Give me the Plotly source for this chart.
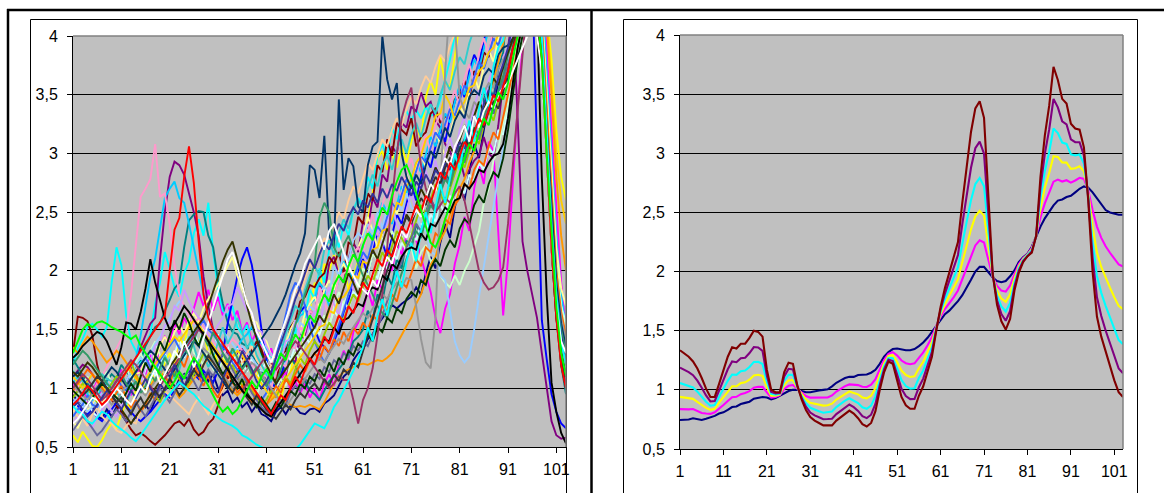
import plotly.graph_objects as go

FW, FH = 1164, 493

x_vals = list(range(1, 104))
x_ticks = [1, 11, 21, 31, 41, 51, 61, 71, 81, 91, 101]
y_ticks = [0.5, 1, 1.5, 2, 2.5, 3, 3.5, 4]
y_tick_text = ["0,5", "1", "1,5", "2", "2,5", "3", "3,5", "4"]

# ---------------- left panel series ----------------
l_navy = [0.95,0.88,0.86,0.78,0.84,0.76,0.74,0.82,0.76,0.84,
 0.78,0.72,0.70,0.76,0.82,0.86,0.80,0.90,0.94,0.98,
 1.04,0.98,1.08,1.12,1.04,1.16,1.22,1.12,1.06,1.12,
 1.00,0.94,0.98,0.88,0.92,0.84,0.88,0.80,0.86,0.78,
 0.76,0.72,0.80,0.84,0.78,0.85,0.84,0.79,0.78,0.82,
 0.83,0.80,0.87,0.90,0.94,1.02,1.10,1.14,1.24,1.30,
 1.33,1.42,1.46,1.54,1.60,1.66,1.71,1.68,1.72,1.75,
 1.78,1.86,1.80,1.98,2.12,2.02,2.24,2.40,2.28,2.54,
 2.72,2.60,2.86,3.08,2.96,3.22,3.44,3.34,3.62,3.76,
 3.60,3.82,4.02,4.20,4.40,4.50,4.40,4.20,3.40,2.60,
 1.80,1.30,1.00]
l_magenta = [1.05,0.96,1.02,0.88,0.97,1.06,0.94,0.90,1.01,1.08,
 1.16,1.00,0.94,1.08,1.20,1.12,1.30,1.18,1.36,1.44,
 1.38,1.56,1.46,1.60,1.52,1.68,1.82,1.70,1.84,1.66,
 1.78,1.62,1.72,1.58,1.66,1.48,1.56,1.40,1.48,1.32,
 1.26,1.34,1.18,1.08,1.14,0.98,1.06,0.96,1.04,0.92,
 1.00,0.90,1.04,1.12,1.02,1.20,1.32,1.24,1.48,1.56,
 1.66,1.84,1.70,1.92,1.84,2.10,2.00,2.24,2.14,2.30,
 2.44,2.26,2.12,1.96,1.82,1.60,1.47,1.68,1.80,2.06,
 2.22,2.46,2.34,2.70,2.90,2.74,3.10,3.02,2.30,1.62,
 2.10,2.80,3.40,3.90,4.30,4.50,4.60,4.40,3.90,3.20,
 2.50,1.90,1.50]
l_yellow = [0.60,0.54,0.63,0.57,0.51,0.50,0.56,0.64,0.70,0.66,
 0.78,0.88,0.82,0.98,1.08,0.96,1.04,1.14,1.06,1.22,
 1.30,1.20,1.44,1.36,1.58,1.46,1.38,1.50,1.28,1.36,
 1.20,1.30,1.12,1.26,1.34,1.18,1.28,1.10,1.16,1.02,
 1.08,0.92,1.00,0.90,1.08,1.16,1.30,1.22,1.56,1.66,
 1.90,1.82,2.06,2.00,2.14,1.98,2.04,1.84,1.96,2.08,
 2.16,2.44,2.66,2.96,3.02,2.86,3.00,2.88,3.06,2.92,
 3.10,3.24,3.12,3.48,3.62,3.50,3.82,3.60,3.56,3.84,
 4.10,4.30,4.40,4.30,4.20,4.40,4.50,4.60,4.60,4.50,
 4.40,4.30,4.50,4.60,4.70,4.60,4.50,4.40,4.20,3.80,
 3.20,2.80,2.60]
l_cyan = [1.20,1.34,1.42,1.52,1.55,1.50,1.44,1.52,1.90,2.20,
 2.05,1.62,1.40,1.32,1.20,1.38,1.46,1.72,1.90,2.16,
 2.02,1.86,1.78,1.98,2.08,2.32,2.44,2.30,2.58,2.16,
 1.84,1.66,1.62,1.70,1.52,1.46,1.54,1.36,1.40,1.28,
 1.22,1.30,1.16,1.38,1.32,1.54,1.46,1.72,1.60,1.84,
 1.76,2.02,1.90,2.18,2.34,2.20,2.40,2.30,2.52,2.62,
 2.56,2.80,2.70,2.98,3.08,2.96,3.22,3.12,3.30,3.36,
 3.28,3.37,3.30,3.40,3.32,3.34,3.46,3.62,3.80,4.00,
 4.20,4.40,4.30,4.20,4.50,4.60,4.50,4.40,4.30,4.20,
 4.30,4.40,4.50,4.60,4.50,4.40,4.40,4.20,3.50,2.60,
 2.00,1.70,1.55]
l_cyan_low = [0.85,0.80,0.78,0.72,0.70,0.75,0.80,0.78,0.72,0.68,
 0.65,0.62,0.58,0.55,0.60,0.66,0.72,0.78,0.85,0.90,
 0.95,1.00,1.05,1.02,0.98,0.95,0.90,0.85,0.82,0.78,
 0.75,0.72,0.70,0.68,0.65,0.60,0.58,0.55,0.52,0.50,
 0.48,0.46,0.45,0.44,0.45,0.46,0.48,0.52,0.58,0.64,
 0.70,0.68,0.66,0.74,0.84,0.90,0.98,1.07,1.15,1.25,
 1.35,1.52,1.40,1.62,1.76,1.62,1.84,2.00,1.86,2.08,
 2.24,2.08,2.34,2.50,2.32,2.54,2.74,2.58,2.80,3.00,
 2.86,3.12,3.28,3.10,3.38,3.56,3.40,3.74,3.90,3.96,
 4.20,4.30,4.40,4.45,4.50,4.40,4.30,4.00,3.20,2.40,
 1.80,1.40,1.20]
l_purple = [1.10,1.15,1.20,1.18,1.12,1.05,1.00,0.95,1.00,1.05,
 1.10,1.05,1.15,1.25,1.35,1.45,1.55,1.60,2.10,2.50,
 2.80,2.93,2.90,2.82,2.65,2.50,2.30,1.95,1.70,1.50,
 1.40,1.35,1.30,1.25,1.30,1.35,1.28,1.22,1.18,1.12,
 1.06,0.96,0.98,1.08,1.04,1.26,1.22,1.46,1.40,1.66,
 1.62,1.88,1.80,2.06,2.12,1.96,1.90,2.10,2.24,2.16,
 2.42,2.36,2.62,2.54,2.82,2.76,3.06,3.00,3.26,3.22,
 3.40,3.36,3.52,3.40,3.44,3.28,3.22,3.08,3.02,2.90,
 2.96,2.80,2.86,2.94,2.98,3.14,3.00,2.96,3.24,3.60,
 3.90,4.20,3.30,2.25,2.00,1.80,1.60,1.30,1.00,0.72,
 0.60,0.57,0.58]
l_maroon = [1.30,1.61,1.60,1.57,1.45,1.20,1.05,0.95,0.90,0.85,
 0.80,0.72,0.65,0.60,0.62,0.59,0.55,0.52,0.56,0.60,
 0.65,0.70,0.72,0.68,0.74,0.65,0.60,0.63,0.70,0.74,
 0.85,1.02,1.10,1.04,1.16,1.26,1.18,1.32,1.40,1.33,
 1.20,1.18,1.04,1.26,1.32,1.52,1.58,1.74,1.78,1.88,
 1.86,1.94,1.98,2.12,2.06,2.16,1.98,2.24,2.22,2.46,
 2.40,2.66,2.60,2.90,2.84,3.12,2.98,3.26,3.20,3.16,
 3.30,3.06,3.14,3.18,3.34,3.38,3.26,3.32,3.28,3.46,
 3.48,3.62,3.46,3.70,3.66,3.86,3.82,4.06,4.04,4.22,
 4.30,4.40,4.50,4.60,4.70,4.60,4.50,4.30,3.60,2.80,
 2.10,1.60,1.30]
l_teal = [1.25,1.18,1.12,1.04,1.00,0.93,1.02,1.06,1.12,1.08,
 1.20,1.14,1.10,1.20,1.24,1.36,1.44,1.52,1.55,1.66,
 1.75,1.85,1.90,2.20,2.43,2.48,2.51,2.50,2.30,2.20,
 1.92,1.72,1.56,1.48,1.46,1.38,1.36,1.28,1.22,1.14,
 1.08,1.05,1.02,1.12,1.18,1.26,1.20,1.10,1.06,0.98,
 0.95,0.90,0.98,1.06,1.10,1.16,1.22,1.28,1.40,1.44,
 1.50,1.66,1.58,1.80,1.74,1.96,1.88,2.10,2.02,2.26,
 2.18,2.40,2.30,2.50,2.62,2.52,2.70,2.84,2.76,2.98,
 3.06,2.96,3.20,3.32,3.24,3.46,3.58,3.48,3.72,3.86,
 4.35,4.45,4.50,4.60,4.50,4.40,4.30,4.00,3.20,2.40,
 1.70,1.20,0.95]
l_blue = [0.90,0.85,0.80,0.78,0.82,0.75,0.72,0.78,0.82,0.88,
 0.92,0.85,0.80,0.75,0.72,0.76,0.80,0.85,0.90,0.95,
 0.92,0.98,1.05,1.10,1.15,1.12,1.08,1.15,1.10,1.05,
 1.15,1.30,1.55,1.75,1.95,2.10,2.20,2.05,1.80,1.50,
 1.25,1.05,1.00,1.10,1.25,1.40,1.55,1.65,1.70,1.60,
 1.50,1.40,1.35,1.30,1.40,1.50,1.65,1.75,1.90,2.00,
 2.10,1.96,2.16,2.34,2.24,2.12,2.30,2.48,2.40,2.58,
 2.74,2.60,2.80,2.96,2.88,3.06,3.20,3.10,3.30,3.44,
 3.56,3.48,3.70,3.84,3.76,3.96,4.10,4.02,4.20,4.30,
 4.40,4.50,4.40,4.50,4.60,4.50,3.00,1.58,1.25,0.95,
 0.80,0.70,0.66]
l_sky = [1.05,1.10,1.00,0.95,0.90,0.95,1.00,1.05,0.98,0.92,
 0.95,1.00,1.10,1.25,1.45,1.70,1.95,2.10,2.35,2.62,
 2.70,2.76,2.62,2.58,2.40,2.20,2.00,1.80,1.60,1.50,
 1.45,1.38,1.32,1.30,1.35,1.42,1.46,1.52,1.44,1.38,
 1.34,1.28,1.22,1.30,1.36,1.46,1.54,1.62,1.64,1.72,
 1.76,1.90,1.84,1.70,1.78,1.94,2.08,2.00,1.92,2.06,
 2.20,2.34,2.28,2.42,2.58,2.50,2.40,2.56,2.72,2.66,
 2.80,2.92,2.84,2.98,3.14,3.06,3.20,3.34,3.26,3.44,
 3.58,3.50,3.66,3.80,3.72,3.90,4.06,4.00,4.18,4.30,
 4.40,4.50,4.60,4.70,4.80,4.70,4.60,4.40,3.70,3.00,
 2.30,1.80,1.50]
l_turquoise = [0.80,0.88,0.84,0.92,0.80,0.76,0.86,0.94,0.90,1.02,
 0.94,0.86,1.00,1.10,1.02,1.16,1.24,1.10,1.22,1.30,
 1.16,1.30,1.42,1.26,1.36,1.50,1.36,1.52,1.40,1.32,
 1.46,1.28,1.36,1.20,1.34,1.22,1.14,1.26,1.08,1.16,
 1.22,1.14,1.26,1.18,1.30,1.24,1.36,1.30,1.44,1.38,
 1.50,1.46,1.58,1.54,1.66,1.60,1.74,1.68,1.82,1.78,
 1.90,1.86,1.98,1.94,2.08,2.02,2.16,2.10,2.24,2.18,
 2.32,2.26,2.40,2.34,2.48,2.42,2.56,2.50,2.64,2.58,
 2.72,2.66,2.82,2.76,2.92,2.86,3.04,3.00,3.20,3.16,
 3.40,3.70,4.00,4.30,4.40,4.40,4.30,4.10,3.40,2.60,
 2.00,1.70,1.55]
l_lightgreen = [1.00,0.94,1.04,1.10,1.00,0.96,1.08,1.14,1.04,1.00,
 1.12,1.18,1.08,1.22,1.30,1.20,1.32,1.40,1.28,1.24,
 1.18,1.32,1.22,1.38,1.44,1.30,1.26,1.20,1.32,1.16,
 1.12,1.26,1.16,1.08,1.12,1.18,1.06,1.02,0.94,1.06,
 0.98,0.90,1.00,1.08,1.02,1.22,1.30,1.24,1.42,1.50,
 1.44,1.56,1.62,1.52,1.70,1.82,1.72,1.80,1.94,1.86,
 2.02,1.96,2.14,2.10,2.28,2.20,2.34,2.24,2.30,2.14,
 2.20,2.02,2.16,2.22,2.08,2.12,1.96,1.90,1.86,1.96,
 1.88,2.00,2.08,2.22,2.34,2.58,2.70,2.94,3.04,3.26,
 3.40,3.62,3.74,3.94,4.10,4.30,4.40,4.20,3.50,2.70,
 2.10,1.70,1.50]
l_lightyellow = [0.72,0.66,0.76,0.82,0.84,0.94,0.86,0.96,1.02,0.94,
 0.88,1.00,1.06,1.12,1.14,1.26,1.32,1.24,1.36,1.44,
 1.36,1.48,1.54,1.46,1.58,1.64,1.56,1.68,1.76,1.82,
 1.88,1.96,2.04,2.12,1.96,1.84,1.74,1.58,1.56,1.44,
 1.40,1.28,1.26,1.34,1.38,1.50,1.58,1.48,1.64,1.72,
 1.78,1.68,1.84,1.92,1.84,2.00,2.06,1.98,2.14,2.20,
 2.30,2.46,2.34,2.20,2.32,2.48,2.60,2.48,2.66,2.82,
 2.70,2.88,3.00,2.88,3.06,3.20,3.08,2.98,3.16,3.32,
 3.40,3.34,3.52,3.66,3.54,3.74,3.88,3.78,3.98,4.12,
 4.20,4.30,4.40,4.50,4.60,4.50,4.40,4.20,3.50,2.80,
 2.20,1.85,1.70]
l_paleblue = [0.88,0.92,0.86,0.80,0.84,0.90,0.96,1.02,0.98,1.04,
 1.10,1.06,1.14,1.20,1.26,1.22,1.30,1.38,1.44,1.52,
 1.60,1.68,1.74,1.70,1.62,1.56,1.50,1.44,1.40,1.36,
 1.42,1.48,1.44,1.38,1.32,1.36,1.30,1.26,1.20,1.16,
 1.12,1.02,1.16,1.24,1.20,1.40,1.36,1.56,1.52,1.70,
 1.66,1.82,1.86,1.80,2.04,1.96,2.16,2.08,2.26,2.32,
 2.28,2.40,2.32,2.50,2.36,2.54,2.48,2.58,2.52,2.66,
 2.54,2.50,2.36,2.34,2.16,2.14,1.96,1.92,1.64,1.40,
 1.28,1.22,1.27,1.50,1.78,2.05,2.30,2.55,2.80,3.05,
 3.30,3.55,3.80,4.05,4.30,4.40,4.30,4.00,3.20,2.40,
 1.90,1.60,1.45]
l_rose = [0.95,1.00,1.06,1.02,0.96,1.04,1.10,1.18,1.26,1.34,
 1.42,1.50,1.80,2.20,2.63,2.70,2.78,3.08,2.63,2.66,
 2.40,2.05,1.80,1.70,1.62,1.55,1.60,1.52,1.46,1.40,
 1.34,1.30,1.36,1.42,1.38,1.32,1.26,1.20,1.16,1.12,
 1.10,1.00,1.14,1.22,1.18,1.36,1.34,1.52,1.48,1.66,
 1.62,1.86,1.74,1.60,1.76,1.94,1.98,2.00,2.14,2.20,
 2.12,2.34,2.48,2.30,2.56,2.70,2.54,2.78,2.60,2.84,
 2.96,2.80,3.02,3.16,3.00,3.24,3.34,3.18,3.42,3.54,
 3.40,3.64,3.76,3.60,3.86,3.98,3.84,4.08,4.20,4.20,
 4.20,4.30,4.40,4.50,4.60,4.50,4.40,4.10,3.30,2.50,
 1.90,1.60,1.40]
l_lavender = [0.70,0.76,0.80,0.70,0.66,0.76,0.82,0.88,0.80,0.76,
 0.86,0.92,0.98,1.06,1.02,1.20,1.22,1.36,1.40,1.54,
 1.56,1.70,1.66,1.84,1.74,1.66,1.60,1.58,1.44,1.46,
 1.54,1.60,1.70,1.72,1.86,1.76,1.66,1.64,1.50,1.48,
 1.36,1.28,1.28,1.22,1.40,1.42,1.58,1.44,1.38,1.56,
 1.66,1.52,1.74,1.86,1.72,1.62,1.84,1.98,1.84,2.06,
 2.18,2.02,2.24,2.36,2.20,2.42,2.56,2.40,2.30,2.52,
 2.66,2.50,2.72,2.86,2.70,2.94,2.76,3.00,3.14,2.98,
 3.20,3.32,3.16,3.40,3.54,3.38,3.62,3.74,3.58,3.82,
 3.90,4.04,4.16,4.30,4.40,4.30,4.20,3.80,3.00,2.30,
 1.80,1.55,1.45]
l_tan = [0.82,0.76,0.74,0.68,0.78,0.84,0.76,0.72,0.70,0.64,
 0.62,0.68,0.72,0.70,0.82,0.88,0.90,1.00,1.06,0.98,
 0.94,0.90,0.86,0.82,0.78,0.86,0.92,0.84,0.78,0.86,
 0.92,0.98,1.06,1.10,1.18,1.22,1.30,1.36,1.24,1.18,
 1.12,1.20,1.34,1.46,1.60,1.72,1.84,1.78,1.94,2.06,
 2.00,2.16,2.28,2.22,2.38,2.50,2.44,2.60,2.72,2.66,
 2.80,2.92,2.86,3.00,3.12,3.06,3.20,3.30,3.24,3.38,
 3.48,3.42,3.56,3.66,3.60,3.74,3.84,3.78,3.92,4.02,
 4.10,4.16,4.24,4.30,4.36,4.40,4.44,4.50,4.56,4.60,
 4.60,4.60,4.70,4.70,4.70,4.60,4.40,4.00,3.20,2.50,
 1.90,1.60,1.40]
l_royal = [0.76,0.82,0.86,0.94,0.86,0.84,0.92,0.98,1.04,1.10,
 1.02,0.98,1.08,1.14,1.20,1.26,1.18,1.14,1.24,1.30,
 1.36,1.42,1.34,1.30,1.40,1.46,1.52,1.58,1.50,1.46,
 1.40,1.34,1.32,1.22,1.16,1.14,1.04,1.02,0.92,0.90,
 0.96,1.10,1.26,1.44,1.62,1.80,1.90,1.84,1.70,1.52,
 1.40,1.30,1.22,1.30,1.42,1.54,1.66,1.80,1.92,2.04,
 2.16,2.10,2.26,2.38,2.32,2.46,2.58,2.52,2.66,2.78,
 2.72,2.86,2.98,2.92,3.06,3.18,3.12,3.26,3.38,3.32,
 3.46,3.58,3.52,3.66,3.78,3.72,3.86,3.98,3.92,4.06,
 4.10,4.20,4.30,4.36,4.40,4.40,4.30,4.00,3.30,2.50,
 1.90,1.55,1.40]
l_aqua = [1.15,1.08,1.06,0.96,1.04,1.10,1.12,1.08,1.06,0.96,
 0.92,0.86,0.98,1.10,1.02,0.94,1.06,1.20,1.12,1.28,
 1.20,1.08,1.16,1.30,1.44,1.36,1.22,1.30,1.18,1.26,
 1.40,1.52,1.38,1.46,1.60,1.48,1.34,1.42,1.28,1.20,
 1.12,1.06,1.18,1.30,1.46,1.58,1.70,1.66,1.84,1.96,
 2.04,1.96,2.18,2.26,2.14,2.32,2.44,2.36,2.52,2.60,
 2.54,2.70,2.82,2.72,2.90,2.98,2.86,3.04,3.12,3.00,
 3.16,3.26,3.14,3.30,3.42,3.34,3.50,3.62,3.54,3.70,
 3.82,3.76,3.94,4.06,4.00,4.16,4.24,4.30,4.36,4.40,
 4.40,4.45,4.50,4.50,4.40,4.40,4.30,4.00,3.30,2.60,
 2.00,1.60,1.35]
l_lime = [0.92,0.98,1.04,1.00,0.94,0.88,0.92,0.98,1.04,1.10,
 1.06,1.14,1.22,1.12,1.04,0.96,1.02,0.94,0.88,0.98,
 1.06,1.14,1.08,0.98,1.04,1.12,1.20,1.30,1.24,1.36,
 1.30,1.22,1.14,1.20,1.10,1.02,1.08,0.98,0.92,0.86,
 0.90,0.98,0.92,1.02,1.10,1.04,1.16,1.26,1.20,1.32,
 1.40,1.34,1.46,1.56,1.50,1.62,1.58,1.70,1.80,1.74,
 1.86,1.96,1.90,2.04,2.16,2.08,2.22,2.34,2.28,2.20,
 2.30,2.44,2.56,2.48,2.62,2.74,2.66,2.56,2.70,2.84,
 2.96,2.88,3.02,3.16,3.08,3.24,3.36,3.28,3.44,3.56,
 3.70,3.86,4.00,4.14,4.30,4.40,4.30,4.00,3.20,2.40,
 1.80,1.50,1.30]
l_gold = [1.10,1.05,1.00,1.06,1.12,1.08,1.02,0.96,1.00,1.06,
 1.12,1.18,1.14,1.08,1.02,1.08,1.14,1.20,1.26,1.32,
 1.38,1.44,1.40,1.46,1.52,1.58,1.54,1.48,1.42,1.36,
 1.30,1.24,1.20,1.26,1.32,1.28,1.22,1.16,1.10,1.04,
 0.98,0.92,0.96,1.02,1.08,1.14,1.20,1.26,1.32,1.38,
 1.44,1.52,1.54,1.66,1.64,1.76,1.78,1.84,1.96,1.94,
 2.08,2.06,2.18,2.20,2.34,2.36,2.44,2.58,2.56,2.72,
 2.78,2.92,2.98,3.12,3.16,3.32,3.34,3.50,3.42,3.28,
 3.38,3.44,3.56,3.58,3.70,3.74,3.86,3.90,4.02,4.06,
 4.16,4.24,4.32,4.40,4.48,4.56,4.60,4.50,4.20,3.60,
 3.00,2.60,2.40]
l_orange = [1.35,1.30,1.38,1.44,1.40,1.34,1.28,1.22,1.26,1.32,
 1.28,1.22,1.16,1.10,1.04,0.98,1.02,1.08,1.14,1.10,
 1.04,0.98,0.92,0.96,1.02,1.08,1.14,1.20,1.26,1.22,
 1.16,1.10,1.04,0.98,0.94,0.98,1.04,1.00,0.94,0.90,
 0.86,0.90,0.94,0.90,0.88,0.86,0.84,0.85,0.84,0.86,
 0.84,0.82,0.88,0.96,1.04,1.10,1.14,1.16,1.18,1.20,
 1.21,1.20,1.22,1.24,1.23,1.26,1.30,1.38,1.46,1.53,
 1.60,1.72,1.80,1.92,2.05,2.12,2.26,2.34,2.48,2.56,
 2.70,2.78,2.92,3.02,3.18,3.30,3.46,3.60,3.78,3.92,
 4.10,4.30,4.50,4.60,4.70,4.60,4.50,4.40,4.10,3.50,
 2.80,2.30,2.00]
l_darkorange = [0.98,1.04,1.10,1.16,1.12,1.06,1.00,0.94,0.90,0.96,
 1.02,0.92,0.84,0.90,0.80,0.86,0.96,0.90,1.02,1.10,
 1.04,1.16,1.26,1.18,1.30,1.22,1.10,1.02,1.12,0.98,
 0.92,1.04,1.14,1.06,0.96,1.02,0.94,0.88,0.96,0.90,
 0.86,0.94,1.02,0.96,1.08,1.02,1.12,1.20,1.14,1.24,
 1.30,1.24,1.36,1.30,1.42,1.36,1.48,1.40,1.52,1.46,
 1.56,1.50,1.62,1.58,1.70,1.66,1.80,1.74,1.90,1.86,
 1.98,2.10,2.04,2.20,2.16,2.32,2.28,2.44,2.40,2.56,
 2.62,2.74,2.70,2.86,2.94,2.90,3.06,3.18,3.12,3.30,
 3.50,3.70,3.90,4.10,4.30,4.40,4.30,4.10,3.40,2.60,
 2.00,1.65,1.45]
l_bluegray = [0.64,0.70,0.76,0.72,0.66,0.60,0.64,0.70,0.76,0.82,
 0.78,0.72,0.80,0.88,0.82,0.76,0.84,0.92,1.00,0.94,
 0.88,0.96,1.06,1.00,1.12,1.06,0.98,1.08,1.16,1.10,
 1.20,1.30,1.24,1.16,1.08,1.14,1.04,0.96,0.90,0.84,
 0.80,0.76,0.84,0.90,0.86,0.96,1.02,0.98,1.08,1.04,
 1.12,1.08,1.18,1.14,1.24,1.20,1.30,1.26,1.36,1.32,
 1.40,1.36,1.46,1.52,1.62,1.74,1.86,1.98,2.08,2.20,
 2.28,2.40,2.34,2.48,2.60,2.54,2.68,2.80,2.74,2.88,
 2.98,2.92,3.06,3.18,3.12,3.28,3.40,3.34,3.50,3.62,
 3.76,3.90,4.04,4.16,4.26,4.30,4.20,3.90,3.20,2.50,
 1.90,1.50,1.30]
l_gray = [1.02,0.98,0.94,0.90,0.96,1.02,0.98,0.92,0.86,0.90,
 0.96,1.02,1.08,1.04,0.98,0.94,1.00,1.06,1.12,1.18,
 1.24,1.20,1.14,1.10,1.16,1.22,1.28,1.34,1.30,1.24,
 1.18,1.12,1.06,1.00,1.04,1.10,1.16,1.22,1.18,1.12,
 1.06,1.00,0.94,0.88,0.84,0.90,0.96,1.02,1.08,1.14,
 1.20,1.26,1.22,1.30,1.36,1.42,1.38,1.46,1.52,1.58,
 1.64,1.60,1.68,1.74,1.80,1.76,1.84,1.90,1.86,1.94,
 1.92,1.70,1.42,1.22,1.17,1.60,2.60,3.70,4.30,4.10,
 3.48,3.36,3.30,3.44,3.38,3.52,3.60,3.56,3.72,3.80,
 3.86,3.98,4.10,4.20,4.30,4.30,4.20,3.90,3.20,2.40,
 1.90,1.60,1.40]
l_darkteal = [1.10,1.14,1.08,1.02,0.96,1.00,1.06,1.12,1.18,1.14,
 1.08,1.02,1.08,1.14,1.20,1.26,1.32,1.28,1.22,1.16,
 1.10,1.16,1.22,1.28,1.34,1.40,1.36,1.30,1.24,1.18,
 1.12,1.06,1.00,1.06,1.12,1.18,1.24,1.30,1.36,1.42,
 1.48,1.54,1.62,1.70,1.80,1.92,2.05,2.15,2.32,2.90,
 2.86,2.62,3.15,2.30,2.20,3.46,2.69,2.96,2.89,2.55,
 2.50,2.90,3.06,3.10,4.00,3.63,3.46,3.60,3.00,2.80,
 2.70,2.82,2.74,2.90,3.02,2.96,3.10,3.22,3.14,3.28,
 3.36,3.30,3.48,3.54,3.50,3.66,3.72,3.68,3.84,3.90,
 3.92,3.98,4.04,4.10,4.16,4.20,4.20,3.90,3.20,2.50,
 1.90,1.55,1.35]
l_seagreen = [1.20,1.26,1.32,1.28,1.22,1.16,1.10,1.04,1.00,1.06,
 1.12,1.04,0.98,1.06,0.96,1.02,1.12,1.06,1.18,1.26,
 1.18,1.10,1.22,1.34,1.28,1.40,1.52,1.44,1.36,1.48,
 1.40,1.30,1.22,1.34,1.26,1.16,1.22,1.12,1.18,1.08,
 1.02,1.10,1.04,1.16,1.28,1.40,1.54,1.66,1.80,1.92,
 2.06,2.46,2.58,2.50,2.20,2.12,2.22,2.30,2.18,2.06,
 1.96,1.88,1.80,1.70,1.64,1.60,1.72,1.86,1.98,2.10,
 2.22,2.34,2.28,2.44,2.56,2.50,2.66,2.78,2.72,2.88,
 3.00,2.94,3.10,3.22,3.16,3.32,3.44,3.38,3.54,3.66,
 3.84,3.96,4.08,4.20,4.30,4.30,4.20,3.80,3.00,2.30,
 1.80,1.50,1.30]
l_darkgreen = [0.98,0.94,0.90,0.86,0.92,0.98,1.04,1.00,0.96,0.92,
 0.88,0.96,1.04,0.98,1.10,1.22,1.14,1.28,1.40,1.32,
 1.46,1.58,1.50,1.64,1.56,1.44,1.36,1.48,1.40,1.28,
 1.20,1.12,1.18,1.06,1.00,1.08,0.96,0.90,0.84,0.92,
 0.86,0.80,0.88,0.84,0.92,0.98,0.94,1.04,1.00,1.10,
 1.06,1.16,1.10,1.22,1.14,1.26,1.20,1.32,1.28,1.38,
 1.34,1.46,1.40,1.52,1.48,1.60,1.56,1.68,1.64,1.76,
 1.82,1.78,1.92,1.88,2.02,2.10,2.04,2.18,2.26,2.20,
 2.36,2.44,2.40,2.56,2.64,2.58,2.74,2.84,2.80,2.96,
 3.20,3.50,3.80,4.00,4.20,4.30,4.20,3.90,3.10,2.30,
 1.70,1.30,1.10]
l_olive = [1.14,1.10,1.16,1.22,1.18,1.12,1.06,1.00,0.94,0.88,
 0.82,0.76,0.70,0.76,0.82,0.88,0.94,1.00,1.06,1.12,
 1.18,1.24,1.30,1.36,1.42,1.48,1.54,1.60,1.70,1.82,
 1.95,2.08,2.18,2.25,2.10,1.90,1.70,1.55,1.42,1.30,
 1.20,1.12,1.04,1.10,1.16,1.22,1.28,1.34,1.40,1.46,
 1.52,1.62,1.56,1.68,1.80,1.72,1.86,1.98,1.90,1.80,
 1.92,2.06,2.18,2.10,2.24,2.36,2.28,2.20,2.34,2.48,
 2.42,2.56,2.70,2.62,2.76,2.88,2.80,2.94,3.06,2.98,
 3.12,3.24,3.16,3.32,3.44,3.36,3.52,3.64,3.58,3.74,
 3.86,3.98,4.10,4.20,4.30,4.20,4.10,3.80,3.00,2.20,
 1.60,1.30,1.10]
l_plum = [1.00,1.06,1.12,1.08,1.02,0.96,0.90,0.94,1.00,1.06,
 1.12,1.18,1.24,1.20,1.14,1.08,1.02,0.96,1.02,1.08,
 1.14,1.20,1.26,1.32,1.38,1.44,1.50,1.46,1.40,1.34,
 1.28,1.22,1.16,1.10,1.04,0.98,1.04,1.10,1.16,1.22,
 1.28,1.22,1.16,1.22,1.28,1.34,1.40,1.36,1.30,1.24,
 1.18,1.12,1.06,1.00,1.04,1.10,1.07,1.07,0.90,0.70,
 0.90,1.00,1.17,1.45,1.80,2.20,2.60,3.00,3.30,3.45,
 3.56,3.20,2.90,2.70,2.60,2.50,2.56,2.62,2.58,2.66,
 2.72,2.60,2.40,2.20,2.00,1.90,1.84,1.86,1.92,2.03,
 2.40,2.90,3.40,3.90,4.30,4.40,4.30,4.00,3.20,2.40,
 1.80,1.40,1.20]
l_indigo = [0.84,0.88,0.82,0.76,0.80,0.86,0.92,0.98,0.94,0.88,
 0.82,0.90,0.98,0.92,1.00,1.08,1.00,0.94,1.04,0.98,
 1.08,1.20,1.12,1.02,1.10,1.24,1.16,1.06,1.14,1.02,
 0.96,1.08,1.18,1.26,1.20,1.32,1.24,1.16,1.06,1.00,
 1.06,1.14,1.26,1.38,1.50,1.62,1.76,1.86,1.98,2.10,
 2.02,2.14,2.24,2.18,2.30,2.40,2.34,2.46,2.54,2.48,
 2.60,2.54,2.66,2.58,2.70,2.62,2.74,2.68,2.80,2.72,
 2.64,2.76,2.70,2.82,2.74,2.86,2.80,2.92,2.86,2.98,
 3.10,3.04,3.20,3.32,3.26,3.42,3.54,3.48,3.64,3.76,
 3.90,4.10,4.20,4.30,4.30,4.30,4.20,3.90,3.10,2.40,
 1.80,1.45,1.25]
l_charcoal = [1.06,1.00,0.94,0.98,1.04,1.10,1.06,1.00,0.94,0.88,
 0.92,0.84,0.78,0.86,0.92,0.84,0.90,0.98,0.92,1.00,
 1.08,1.02,0.94,1.00,1.08,1.16,1.10,1.20,1.28,1.22,
 1.16,1.10,1.02,0.96,1.04,0.98,0.92,0.86,0.94,0.88,
 0.82,0.78,0.74,0.80,0.86,0.82,0.90,0.96,0.92,1.00,
 1.04,0.98,1.08,1.02,1.12,1.06,1.16,1.12,1.22,1.18,
 1.32,1.46,1.60,1.74,1.88,2.02,2.14,2.26,2.36,2.46,
 2.40,2.52,2.62,2.56,2.70,2.80,2.74,2.88,2.96,2.90,
 3.04,3.12,3.06,3.20,3.28,3.22,3.36,3.44,3.38,3.52,
 3.70,3.90,4.10,4.20,4.30,4.30,4.20,3.80,3.00,2.20,
 1.60,1.20,1.00]
l_black = [1.26,1.30,1.36,1.40,1.44,1.48,1.46,1.40,1.30,1.20,
 1.35,1.56,1.55,1.50,1.65,1.85,2.10,1.90,1.75,1.60,
 1.50,1.55,1.62,1.70,1.65,1.58,1.52,1.46,1.40,1.34,
 1.28,1.22,1.16,1.10,1.04,0.98,0.94,0.90,0.86,0.82,
 0.78,0.76,0.82,0.88,0.94,1.00,1.06,1.12,1.18,1.24,
 1.30,1.34,1.42,1.40,1.52,1.46,1.58,1.60,1.66,1.72,
 1.70,1.82,1.86,1.84,1.96,1.92,2.06,2.02,2.12,2.18,
 2.20,2.18,2.32,2.26,2.40,2.38,2.46,2.54,2.50,2.60,
 2.62,2.74,2.70,2.76,2.86,2.84,2.92,2.98,3.00,3.08,
 3.30,3.60,3.90,4.10,4.30,4.40,4.20,2.80,1.80,1.05,
 0.80,0.62,0.53]
l_white = [0.70,0.74,0.80,0.86,0.92,0.90,0.84,0.88,0.94,1.00,
 0.96,0.90,0.86,0.94,1.02,0.96,1.08,1.16,1.04,1.12,
 1.20,1.32,1.26,1.40,1.30,1.18,1.28,1.42,1.56,1.70,
 1.84,1.96,2.10,2.16,2.04,1.88,1.72,1.64,1.48,1.40,
 1.30,1.22,1.34,1.46,1.58,1.70,1.84,1.92,2.06,2.14,
 2.22,2.30,2.18,2.34,2.40,2.28,2.16,2.04,1.96,1.88,
 1.84,1.80,1.92,1.86,2.00,2.12,2.06,2.22,2.34,2.28,
 2.44,2.52,2.46,2.62,2.74,2.68,2.84,2.96,2.90,3.06,
 3.14,3.24,3.10,3.32,3.22,3.36,3.44,3.38,3.50,3.56,
 3.60,3.70,3.80,3.90,4.00,4.10,4.00,3.70,3.00,2.20,
 1.70,1.40,1.30]
l_red = [0.86,0.90,0.96,1.02,0.98,0.92,0.86,0.90,0.96,1.02,
 1.08,1.14,1.20,1.26,1.32,1.38,1.44,1.50,1.56,1.62,
 2.00,2.35,2.45,2.80,3.06,2.75,2.25,1.80,1.60,1.50,
 1.44,1.38,1.32,1.26,1.20,1.14,1.08,1.02,0.96,0.90,
 0.84,0.78,0.86,0.94,0.90,1.00,1.10,1.04,1.16,1.26,
 1.20,1.32,1.44,1.38,1.50,1.62,1.56,1.70,1.64,1.78,
 1.90,1.84,1.98,2.10,2.04,2.18,2.12,2.26,2.38,2.32,
 2.44,2.56,2.50,2.64,2.58,2.72,2.84,2.78,2.92,2.86,
 2.98,3.10,3.04,3.18,3.30,3.24,3.38,3.50,3.44,3.58,
 3.70,3.90,4.00,4.10,4.30,4.30,4.20,3.80,3.00,2.20,
 1.60,1.20,1.00]
l_green = [1.30,1.40,1.50,1.55,1.52,1.56,1.57,1.55,1.52,1.50,
 1.48,1.45,1.42,1.45,1.36,1.30,1.24,1.18,1.12,1.06,
 1.00,1.06,1.14,1.08,1.18,1.26,1.20,1.10,1.02,0.94,
 0.86,0.80,0.84,0.78,0.82,0.90,0.98,1.06,1.00,1.10,
 1.16,1.08,1.20,1.30,1.24,1.36,1.46,1.40,1.52,1.62,
 1.56,1.70,1.80,1.74,1.88,1.96,1.90,2.04,2.14,2.08,
 2.22,2.32,2.26,2.42,2.54,2.48,2.64,2.76,2.86,2.90,
 2.80,2.66,2.50,2.36,2.24,2.20,2.30,2.44,2.56,2.70,
 2.84,2.96,3.08,3.02,3.18,3.30,3.24,3.40,3.52,3.46,
 3.60,3.80,4.00,4.20,4.30,4.30,4.20,3.80,3.00,2.30,
 1.70,1.30,1.10]

left_series = [
    (l_navy, "#000080"), (l_magenta, "#FF00FF"), (l_yellow, "#FFFF00"),
    (l_cyan, "#00FFFF"), (l_purple, "#800080"), (l_maroon, "#800000"),
    (l_teal, "#008080"), (l_blue, "#0000FF"), (l_sky, "#00CCFF"),
    (l_turquoise, "#CCFFFF"), (l_lightgreen, "#CCFFCC"), (l_lightyellow, "#FFFF99"),
    (l_paleblue, "#99CCFF"), (l_rose, "#FF99CC"), (l_lavender, "#CC99FF"),
    (l_tan, "#FFCC99"), (l_royal, "#3366FF"), (l_aqua, "#33CCCC"),
    (l_lime, "#99CC00"), (l_gold, "#FFCC00"), (l_orange, "#FF9900"),
    (l_darkorange, "#FF6600"), (l_bluegray, "#666699"), (l_gray, "#969696"),
    (l_darkteal, "#003366"), (l_seagreen, "#339966"), (l_darkgreen, "#003300"),
    (l_olive, "#333300"), (l_plum, "#993366"), (l_indigo, "#333399"),
    (l_charcoal, "#333333"), (l_cyan_low, "#00FFFF"), (l_black, "#000000"),
    (l_white, "#FFFFFF"), (l_red, "#FF0000"), (l_green, "#00FF00"),
]

# ---------------- right panel series ----------------
r_navy = [0.745,0.745,0.75,0.76,0.75,0.745,0.755,0.765,0.78,0.80,
 0.81,0.83,0.855,0.86,0.88,0.89,0.90,0.925,0.935,0.94,
 0.935,0.92,0.93,0.95,0.975,0.99,1.0,1.0,0.99,0.98,
 0.98,0.99,0.995,1.0,1.005,1.03,1.06,1.08,1.10,1.11,
 1.11,1.125,1.125,1.13,1.145,1.17,1.22,1.28,1.32,1.345,
 1.35,1.34,1.335,1.335,1.345,1.37,1.40,1.44,1.49,1.55,
 1.60,1.64,1.67,1.71,1.75,1.80,1.86,1.93,2.00,2.04,
 2.04,1.99,1.95,1.92,1.91,1.92,1.96,2.01,2.08,2.12,
 2.15,2.21,2.30,2.38,2.45,2.51,2.56,2.60,2.61,2.63,
 2.64,2.67,2.70,2.72,2.71,2.67,2.62,2.56,2.52,2.50,
 2.49,2.48,2.48]
r_magenta = [0.837,0.834,0.835,0.838,0.821,0.805,0.800,0.797,0.810,0.845,
 0.872,0.905,0.938,0.941,0.964,0.973,0.989,1.019,1.026,1.025,
 0.978,0.935,0.940,0.956,1.008,1.034,1.041,1.008,0.976,0.948,
 0.934,0.934,0.933,0.931,0.935,0.953,0.986,1.009,1.032,1.046,
 1.040,1.040,1.026,1.024,1.044,1.090,1.172,1.253,1.304,1.319,
 1.291,1.248,1.225,1.217,1.224,1.273,1.317,1.377,1.445,1.540,
 1.620,1.682,1.730,1.782,1.840,1.934,2.033,2.133,2.221,2.265,
 2.246,2.099,1.956,1.878,1.839,1.830,1.882,1.975,2.062,2.112,
 2.146,2.200,2.300,2.459,2.576,2.667,2.760,2.778,2.761,2.772,
 2.752,2.770,2.793,2.783,2.688,2.520,2.380,2.285,2.214,2.159,
 2.107,2.060,2.043]
r_yellow = [0.941,0.934,0.929,0.924,0.899,0.871,0.848,0.831,0.840,0.892,
 0.938,0.987,1.030,1.030,1.057,1.064,1.086,1.122,1.127,1.118,
 1.023,0.951,0.950,0.962,1.042,1.080,1.083,1.016,0.961,0.917,
 0.890,0.881,0.874,0.867,0.870,0.883,0.918,0.943,0.968,0.986,
 0.974,0.962,0.936,0.928,0.951,1.015,1.127,1.226,1.287,1.293,
 1.235,1.163,1.125,1.109,1.114,1.183,1.238,1.316,1.402,1.530,
 1.639,1.725,1.791,1.857,1.935,2.079,2.222,2.357,2.467,2.514,
 2.473,2.215,1.962,1.837,1.771,1.744,1.807,1.940,2.044,2.104,
 2.142,2.190,2.300,2.540,2.709,2.834,2.976,2.968,2.922,2.921,
 2.869,2.874,2.890,2.848,2.665,2.379,2.162,2.039,1.946,1.864,
 1.783,1.710,1.682]
r_cyan = [1.057,1.045,1.034,1.020,0.985,0.941,0.899,0.866,0.872,0.942,
 1.010,1.076,1.130,1.127,1.158,1.163,1.193,1.236,1.237,1.219,
 1.070,0.967,0.960,0.968,1.077,1.128,1.127,1.024,0.947,0.887,
 0.848,0.831,0.819,0.807,0.809,0.817,0.854,0.882,0.909,0.929,
 0.912,0.889,0.853,0.840,0.867,0.945,1.083,1.200,1.271,1.268,
 1.181,1.083,1.032,1.011,1.014,1.100,1.164,1.258,1.360,1.520,
 1.659,1.769,1.855,1.935,2.035,2.234,2.428,2.604,2.740,2.791,
 2.722,2.336,1.968,1.797,1.705,1.662,1.735,1.906,2.026,2.096,
 2.138,2.180,2.300,2.623,2.849,3.011,3.209,3.171,3.091,3.079,
 2.991,2.982,2.990,2.913,2.643,2.245,1.963,1.820,1.710,1.610,
 1.508,1.421,1.386]
r_purple = [1.188,1.170,1.150,1.124,1.078,1.018,0.953,0.902,0.906,0.994,
 1.087,1.174,1.240,1.234,1.268,1.272,1.311,1.362,1.358,1.330,
 1.119,0.983,0.970,0.974,1.113,1.178,1.173,1.032,0.934,0.858,
 0.808,0.784,0.768,0.752,0.753,0.756,0.795,0.824,0.853,0.876,
 0.854,0.822,0.778,0.761,0.790,0.881,1.041,1.175,1.256,1.244,
 1.129,1.009,0.948,0.922,0.923,1.022,1.095,1.203,1.320,1.510,
 1.680,1.814,1.921,2.016,2.140,2.401,2.653,2.878,3.043,3.099,
 2.997,2.465,1.974,1.758,1.641,1.584,1.666,1.873,2.008,2.088,
 2.134,2.170,2.300,2.710,2.995,3.200,3.460,3.388,3.270,3.245,
 3.118,3.094,3.093,2.981,2.622,2.119,1.783,1.625,1.502,1.390,
 1.276,1.180,1.141]
r_maroon = [1.335,1.31,1.28,1.24,1.18,1.10,1.01,0.94,0.94,1.05,
 1.17,1.28,1.36,1.35,1.39,1.39,1.44,1.50,1.49,1.45,
 1.17,1.00,0.98,0.98,1.15,1.23,1.22,1.04,0.92,0.83,
 0.77,0.74,0.72,0.70,0.70,0.70,0.74,0.77,0.80,0.825,
 0.80,0.76,0.71,0.69,0.72,0.82,1.00,1.15,1.24,1.22,
 1.08,0.94,0.87,0.84,0.84,0.95,1.03,1.15,1.28,1.50,
 1.70,1.86,1.99,2.10,2.25,2.58,2.90,3.18,3.38,3.44,
 3.30,2.60,1.98,1.72,1.58,1.51,1.60,1.84,1.99,2.08,
 2.13,2.16,2.30,2.80,3.15,3.40,3.73,3.62,3.46,3.42,
 3.25,3.21,3.20,3.05,2.60,2.00,1.62,1.45,1.32,1.20,
 1.08,0.98,0.94]

right_series = [
    (r_navy, "#000080"), (r_magenta, "#FF00FF"), (r_yellow, "#FFFF00"),
    (r_cyan, "#00FFFF"), (r_purple, "#800080"), (r_maroon, "#800000"),
]

for s, _ in left_series + right_series:
    assert len(s) == 103, len(s)

# ---------------- layout geometry (pixels) ----------------
L_PLOT = (73, 566, 36, 447)    # x0, x1, ytop, ybottom
R_PLOT = (680, 1123, 35, 449)

def px(x):
    return x / FW

def py(y):
    return 1 - y / FH

fig = go.Figure()
for s, c in left_series:
    fig.add_trace(go.Scatter(x=x_vals, y=s, mode="lines", xaxis="x", yaxis="y",
                             line=dict(color=c, width=1.9), hoverinfo="skip",
                             showlegend=False))
for s, c in right_series:
    fig.add_trace(go.Scatter(x=x_vals, y=s, mode="lines", xaxis="x2", yaxis="y2",
                             line=dict(color=c, width=2.1), hoverinfo="skip",
                             showlegend=False))

font = dict(family="Arial, 'Liberation Sans', sans-serif", size=16, color="#000000")

def xaxis_cfg(plot, anchor):
    return dict(domain=[px(plot[0]), px(plot[1])], range=[1, 103], anchor=anchor,
                tickmode="array", tickvals=x_ticks, ticktext=[str(t) for t in x_ticks],
                ticks="outside", ticklen=5, tickwidth=1, tickcolor="#000000",
                showline=True, linecolor="#000000", linewidth=1,
                showgrid=False, zeroline=False, tickfont=font, ticklabelstandoff=3,
                automargin=False, fixedrange=True)

def yaxis_cfg(plot, anchor):
    return dict(domain=[py(plot[3]), py(plot[2])], range=[0.5, 4], anchor=anchor,
                tickmode="array", tickvals=y_ticks, ticktext=y_tick_text,
                ticks="outside", ticklen=5, tickwidth=1, tickcolor="#000000",
                showline=True, linecolor="#000000", linewidth=1,
                showgrid=True, gridcolor="#000000", gridwidth=1,
                zeroline=False, tickfont=font, ticklabelstandoff=6,
                automargin=False, fixedrange=True)

shapes = []
def line_shape(x0, y0, x1, y1, width=1, color="#000000", layer="above"):
    shapes.append(dict(type="line", xref="paper", yref="paper",
                       x0=px(x0), y0=py(y0), x1=px(x1), y1=py(y1),
                       line=dict(color=color, width=width), layer=layer))

# table borders
line_shape(7, 10, 1164, 10, width=2.5)
line_shape(8, 9, 8, 493, width=2.5)
line_shape(591.5, 9, 591.5, 493, width=2.5)
# chart frames
for (fx0, fx1, fy0) in [(30.5, 566.5, 19.5), (623.5, 1137.5, 19.5)]:
    line_shape(fx0, fy0, fx1, fy0, width=1)
    line_shape(fx0, fy0, fx0, 493, width=1)
    line_shape(fx1, fy0, fx1, 493, width=1)
# plot-area borders (top and right, gray)
for p in (L_PLOT, R_PLOT):
    line_shape(p[0], p[2], p[1], p[2], width=1.5, color="#808080")
    line_shape(p[1], p[2], p[1], p[3], width=1.5, color="#808080")

fig.update_layout(
    width=FW, height=FH, autosize=False,
    margin=dict(l=0, r=0, t=0, b=0, autoexpand=False),
    paper_bgcolor="#FFFFFF", plot_bgcolor="#C0C0C0",
    showlegend=False,
    xaxis=xaxis_cfg(L_PLOT, "y"), yaxis=yaxis_cfg(L_PLOT, "x"),
    xaxis2=xaxis_cfg(R_PLOT, "y2"), yaxis2=yaxis_cfg(R_PLOT, "x2"),
    shapes=shapes,
    font=font,
)

fig.write_html("out.html", config={"displayModeBar": False, "staticPlot": True})
